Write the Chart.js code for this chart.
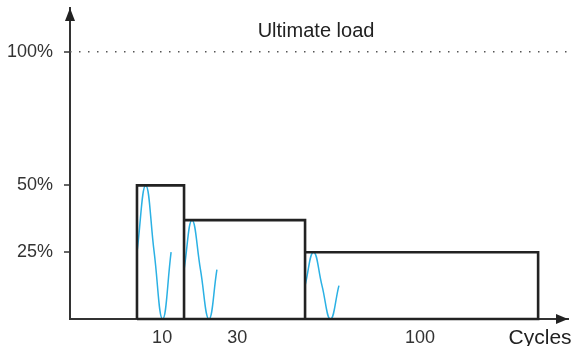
<!DOCTYPE html>
<html>
<head>
<meta charset="utf-8">
<script src="https://cdn.jsdelivr.net/npm/chart.js@4.4.0/dist/chart.umd.min.js"></script>
<style>
  html, body { margin: 0; padding: 0; background: #fff; }
  #wrap { width: 571px; height: 346px; }
</style>
</head>
<body>
<div id="wrap"><canvas id="loadChart"></canvas></div>
<script>
// cycle axis runs 0..100 (arbitrary units), load axis in %
const blockEdges = [13.45, 22.9, 47.2, 94.0];
const blockLoads = [50, 37, 25];
const cycleLabels = ['10', '30', '100'];
const cyclePositions = [18.5, 33.6, 70.3];
const loadTicks = [25, 50, 100];
const ultimateLoad = 100;

// sketched load waves, one per block
const wave1X = [13.45, 15.2, 16.9, 18.6, 20.3];
const wave1Y = [25, 50, 25, 0, 25];
const wave2X = [22.9, 24.5, 26.2, 27.9, 29.5];
const wave2Y = [18.5, 37, 18.5, 0, 18.5];
const wave3X = [47.2, 48.9, 50.6, 52.3, 54.0];
const wave3Y = [12.5, 25, 12.5, 0, 12.5];

const tickFont = { family: "'Liberation Sans', Arial, sans-serif", size: 18 };
const textColor = '#333';

function toPoints(xs, ys) {
    return xs.map((x, i) => ({ x: x, y: ys[i] }));
}

//outline of the three load blocks
function blockOutline() {
    const pts = [{ x: blockEdges[0], y: 0 }];
    blockLoads.forEach((load, i) => {
        pts.push({ x: blockEdges[i], y: load });
        pts.push({ x: blockEdges[i + 1], y: load });
        pts.push({ x: blockEdges[i + 1], y: 0 });
    });
    pts.push({ x: blockEdges[0], y: 0 });
    return pts;
}

function waveDataset(xs, ys) {
    return {
        data: toPoints(xs, ys),
        borderColor: '#2bb1e4',
        borderWidth: 1.5,
        pointRadius: 0,
        showLine: true,
        tension: 0.45,
        clip: false
    };
}

const axisDecor = {
    id: 'axisDecor',
    afterDraw(chart) {
        const { ctx, chartArea: a, scales: { x, y } } = chart;
        ctx.save();
        ctx.fillStyle = '#222';
        // arrow heads
        ctx.beginPath();
        ctx.moveTo(a.left, a.top);
        ctx.lineTo(a.left - 5, a.top + 13);
        ctx.lineTo(a.left + 5, a.top + 13);
        ctx.closePath();
        ctx.fill();
        ctx.beginPath();
        ctx.moveTo(a.right, a.bottom);
        ctx.lineTo(a.right - 12, a.bottom - 5);
        ctx.lineTo(a.right - 12, a.bottom + 5);
        ctx.closePath();
        ctx.fill();
        // texts
        ctx.fillStyle = '#222';
        ctx.font = "20px 'Liberation Sans', Arial, sans-serif";
        ctx.textAlign = 'center';
        ctx.textBaseline = 'alphabetic';
        ctx.fillText('Ultimate load', x.getPixelForValue(49.4), y.getPixelForValue(ultimateLoad) - 15);
        ctx.font = "21px 'Liberation Sans', Arial, sans-serif";
        ctx.fillText('Cycles', x.getPixelForValue(94.4), a.bottom + 25);
        ctx.restore();
    }
};

new Chart(document.getElementById('loadChart'), {
    type: 'scatter',
    data: {
        datasets: [
            {
                data: [{ x: 0, y: ultimateLoad }, { x: 100, y: ultimateLoad }],
                borderColor: '#555',
                borderWidth: 1.5,
                borderDash: [1.5, 7.5],
                pointRadius: 0,
                showLine: true
            },
            {
                data: blockOutline(),
                borderColor: '#222',
                borderWidth: 2.6,
                pointRadius: 0,
                showLine: true,
                clip: false
            },
            waveDataset(wave1X, wave1Y),
            waveDataset(wave2X, wave2Y),
            waveDataset(wave3X, wave3Y)
        ]
    },
    options: {
        responsive: true,
        maintainAspectRatio: false,
        animation: false,
        layout: { padding: { top: 8, right: 3, left: 0, bottom: 0 } },
        plugins: {
            legend: { display: false },
            tooltip: { enabled: false },
            title: { display: false }
        },
        scales: {
            x: {
                type: 'linear',
                min: 0,
                max: 100,
                border: { color: '#333', width: 2 },
                grid: { display: false, drawTicks: false },
                afterBuildTicks: scale => { scale.ticks = cyclePositions.map(v => ({ value: v })); },
                afterFit: scale => {
                    scale.height = 27;
                    scale.paddingLeft = 0;
                    scale.paddingRight = 0;
                },
                ticks: {
                    autoSkip: false,
                    maxRotation: 0,
                    padding: 8,
                    color: textColor,
                    font: tickFont,
                    callback: (v, i) => cycleLabels[i]
                }
            },
            y: {
                min: 0,
                max: 116.4,
                border: { color: '#333', width: 2 },
                grid: { drawOnChartArea: false, drawTicks: true, tickLength: 6, color: '#666', lineWidth: 2 },
                afterBuildTicks: scale => { scale.ticks = loadTicks.map(v => ({ value: v })); },
                afterFit: scale => {
                    scale.width = 70;
                    scale.paddingTop = 0;
                    scale.paddingBottom = 0;
                },
                ticks: {
                    padding: 11,
                    color: textColor,
                    font: tickFont,
                    callback: v => v + '%'
                }
            }
        }
    },
    plugins: [axisDecor]
});
</script>
</body>
</html>
